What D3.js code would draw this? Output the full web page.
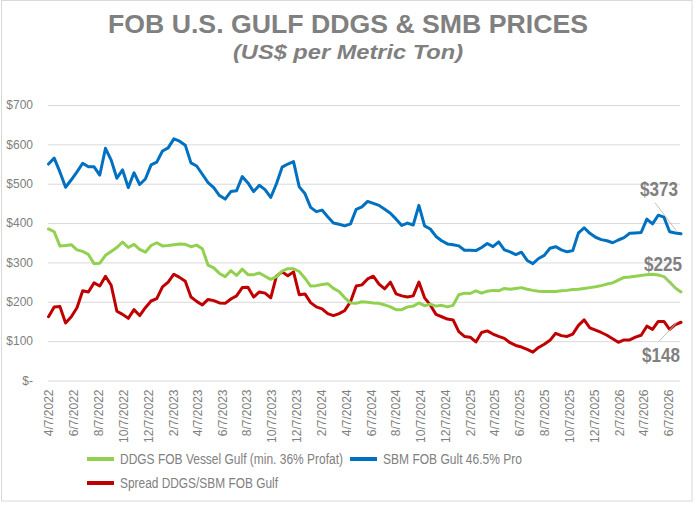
<!DOCTYPE html>
<html>
<head>
<meta charset="utf-8">
<script src="https://cdn.jsdelivr.net/npm/d3@7/dist/d3.min.js"></script>
<style>
  html, body { margin: 0; padding: 0; background: #fff; }
  svg { display: block; }
</style>
</head>
<body>
<svg id="chart" width="698" height="509"></svg>
<script>
// ---------- DATA ----------
const titleText = "FOB U.S. GULF DDGS & SMB PRICES";
const subtitleText = "(US$ per Metric Ton)";
const startDate = "2022-04-07";   // first observation
const stepDays = 14;              // observations every two weeks

const sbm = [550,565,530,491,510,530,552,543,543,522,590,560,514,535,490,528,498,512,548,555,
  583,591,614,608,598,553,545,524,503,490,470,461,480,482,518,502,480,496,485,465,
  500,542,550,556,492,475,440,429,433,416,400,397,393,398,435,441,455,450,445,435,
  425,410,394,400,395,445,393,385,366,355,347,345,342,331,331,330,338,348,340,352,
  332,327,320,326,305,297,310,318,336,340,332,327,330,375,388,374,364,358,355,350,
  357,363,374,375,376,410,398,420,415,378,375,373];

const ddgs = [385,378,342,343,345,332,328,320,297,298,318,328,338,352,338,346,333,326,343,350,
  342,343,345,347,346,340,344,335,293,286,272,264,279,267,283,269,269,273,265,257,
  264,278,284,284,277,260,240,241,244,246,234,226,210,197,196,200,199,197,196,192,
  187,180,180,187,189,197,190,194,189,191,187,191,218,222,221,228,222,227,229,228,
  234,232,234,236,232,229,227,226,226,226,228,229,231,232,234,236,238,241,245,248,
  255,262,263,265,267,269,270,268,264,250,235,225];

const spread = [162,187,188,146,162,185,228,225,248,240,265,242,176,168,158,180,165,185,202,208,
  238,250,270,262,252,212,201,192,206,203,197,196,207,215,236,237,212,225,222,210,
  265,276,266,276,218,220,198,187,182,170,165,170,178,200,240,243,258,265,245,233,
  250,220,215,212,215,250,210,192,168,162,156,154,124,112,110,98,122,126,118,112,
  107,96,89,85,79,72,84,92,102,120,114,112,118,140,154,134,128,122,115,106,
  97,103,103,110,115,138,130,150,150,130,142,148];

const xTickLabels = ["4/7/2022","6/7/2022","8/7/2022","10/7/2022","12/7/2022",
  "2/7/2023","4/7/2023","6/7/2023","8/7/2023","10/7/2023","12/7/2023",
  "2/7/2024","4/7/2024","6/7/2024","8/7/2024","10/7/2024","12/7/2024",
  "2/7/2025","4/7/2025","6/7/2025","8/7/2025","10/7/2025","12/7/2025",
  "2/7/2026","4/7/2026","6/7/2026"];
const yTicks = [0,100,200,300,400,500,600,700];

const seriesNames = ["DDGS FOB Vessel Gulf (min. 36% Profat)", "SBM FOB Gult 46.5% Pro", "Spread DDGS/SBM FOB Gulf"];
const seriesColors = ["#92D050", "#0070C0", "#C00000"];

// ---------- SETUP ----------
const svg = d3.select("#chart");
const parseISO = d3.timeParse("%Y-%m-%d");
const parseMDY = d3.timeParse("%-m/%-d/%Y");
const fmtMDY = d3.timeFormat("%-m/%-d/%Y");
const d0 = parseISO(startDate);
const dates = d3.range(sbm.length).map(i => d3.timeDay.offset(d0, i * stepDays));

const FONT = "'Liberation Sans Narrow','Arial Narrow','Liberation Sans',Arial,sans-serif";
const GRAY = "#808080";

const x = d3.scaleTime()
  .domain([parseMDY("4/7/2022"), parseMDY("6/7/2026")])
  .range([48.5, 668]);
const y = d3.scaleLinear().domain([0, 700]).range([380.5, 105]);

// border
svg.append("rect").attr("x", 1.5).attr("y", 0.5).attr("width", 690.5).attr("height", 500.5)
  .attr("fill", "none").attr("stroke", "#d9d9d9").attr("stroke-width", 1);

// title
svg.append("text").attr("x", 348).attr("y", 33).attr("text-anchor", "middle")
  .attr("font-family", FONT).attr("font-weight", "bold").attr("font-size", 25)
  .attr("fill", GRAY).attr("textLength", 480).attr("lengthAdjust", "spacingAndGlyphs")
  .text(titleText);
svg.append("text").attr("x", 348).attr("y", 59).attr("text-anchor", "middle")
  .attr("font-family", FONT).attr("font-weight", "bold").attr("font-style", "italic").attr("font-size", 21)
  .attr("fill", GRAY).attr("textLength", 230).attr("lengthAdjust", "spacingAndGlyphs")
  .text(subtitleText);

// gridlines + y labels
const yAxis = d3.axisLeft(y).tickValues(yTicks)
  .tickSize(-(680 - 48))
  .tickFormat(d => d === 0 ? "$-" : "$" + d);
const gy = svg.append("g").attr("transform", "translate(48,0)").call(yAxis);
gy.select(".domain").remove();
gy.selectAll(".tick line").attr("stroke", "#d9d9d9").attr("stroke-width", 1);
gy.selectAll(".tick text").attr("x", -15).attr("font-family", FONT).attr("font-size", 12).attr("fill", GRAY);

// x labels
const xAxis = d3.axisBottom(x).tickValues(xTickLabels.map(parseMDY)).tickSize(0).tickFormat(fmtMDY);
const gx = svg.append("g").attr("transform", "translate(0,380.5)").call(xAxis);
gx.select(".domain").remove();
gx.selectAll(".tick text")
  .attr("font-family", FONT).attr("font-size", 12).attr("fill", GRAY)
  .attr("text-anchor", "end").attr("dy", "0.35em")
  .attr("transform", "translate(0,9) rotate(-90)").attr("x", 0).attr("y", 0);

// lines
const line = d3.line().x((d, i) => x(dates[i])).y(d => y(d)).curve(d3.curveLinear);
const series = [ddgs, sbm, spread];
[spread, ddgs, sbm].forEach(arr => {
  const ci = series.indexOf(arr);
  svg.append("path").datum(arr).attr("d", line)
    .attr("fill", "none").attr("stroke", seriesColors[ci]).attr("stroke-width", 3)
    .attr("stroke-linejoin", "round").attr("stroke-linecap", "round");
});

// end labels
const last = sbm.length - 1;
const endX = x(dates[last]);
const endLabels = [
  {v: sbm[last], dx: -22, dy: -38, l1: [-26, -31], l2: [-4, -2]},
  {v: ddgs[last], dx: -18, dy: -21, l1: [-20, -17], l2: [-4, -1]},
  {v: spread[last], dx: -20, dy: 40, l1: [-22, 19], l2: [-4, 0]}
];
endLabels.forEach(o => {
  const ey = y(o.v);
  svg.append("line").attr("x1", endX + o.l1[0]).attr("y1", ey + o.l1[1])
    .attr("x2", endX + o.l2[0]).attr("y2", ey + o.l2[1])
    .attr("stroke", "#bfbfbf").attr("stroke-width", 1);
  svg.append("text").attr("x", endX + o.dx).attr("y", ey + o.dy).attr("text-anchor", "middle")
    .attr("font-family", FONT).attr("font-weight", "bold").attr("font-size", 20)
    .attr("fill", GRAY).attr("textLength", 38).attr("lengthAdjust", "spacingAndGlyphs")
    .text("$" + o.v);
});

// legend
const legendItems = [
  {i: 0, x: 87, y: 459, w: 223},
  {i: 1, x: 350, y: 459, w: 139},
  {i: 2, x: 87, y: 483, w: 158}
];
legendItems.forEach(o => {
  svg.append("line").attr("x1", o.x).attr("x2", o.x + 27).attr("y1", o.y).attr("y2", o.y)
    .attr("stroke", seriesColors[o.i]).attr("stroke-width", 4);
  svg.append("text").attr("x", o.x + 33).attr("y", o.y + 5)
    .attr("font-family", FONT).attr("font-size", 14).attr("fill", GRAY)
    .attr("textLength", o.w).attr("lengthAdjust", "spacingAndGlyphs")
    .text(seriesNames[o.i]);
});
</script>
</body>
</html>
